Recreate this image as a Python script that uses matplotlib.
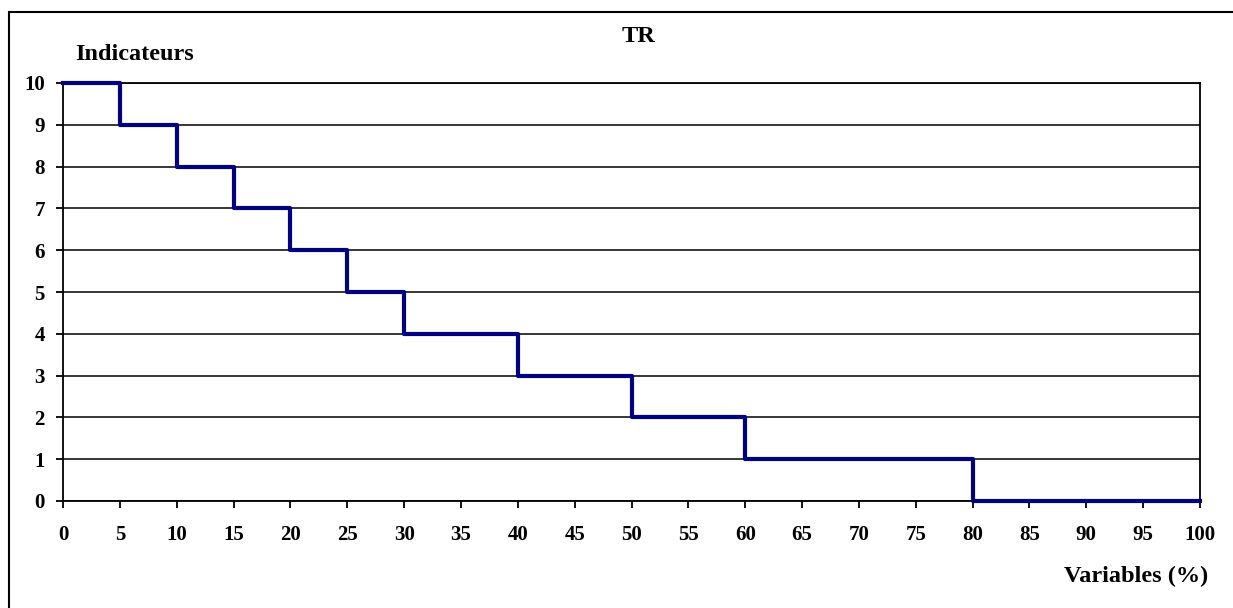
import matplotlib
matplotlib.use("Agg")
import matplotlib.pyplot as plt
from matplotlib.patches import Rectangle

# step breakpoints (Variables %) and indicator level after each breakpoint
variables = [0, 5, 10, 15, 20, 25, 30, 40, 50, 60, 80, 100]
indicateurs = [10, 9, 8, 7, 6, 5, 4, 3, 2, 1, 0, 0]
x_ticks = list(range(0, 101, 5))
y_ticks = list(range(0, 11))

plt.rcParams['font.family'] = ['Liberation Serif', 'DejaVu Serif']
plt.rcParams['font.weight'] = 'bold'

W, H = 1233, 608
fig = plt.figure(figsize=(W / 100, H / 100), dpi=100)
ax = fig.add_axes([63 / W, 1 - 501 / H, (1200 - 63) / W, (501 - 83) / H])

# outer chart frame (only left and top visible in the picture)
fig.patches.append(Rectangle((9 / W, -0.2), 2, 1.2 - 12 / H, transform=fig.transFigure,
                             fill=False, edgecolor='black', linewidth=1.5))

ax.step(variables, indicateurs, where='post', color='#000080', linewidth=3,
        clip_on=False, zorder=4)

ax.set_xlim(0, 100)
ax.set_ylim(0, 10)
ax.set_xticks(x_ticks)
ax.set_yticks(y_ticks)
ax.yaxis.grid(True, color='black', linewidth=1.1)
ax.set_axisbelow(True)
for s in ax.spines.values():
    s.set_linewidth(1.3)
    s.set_color('black')
ax.tick_params(axis='x', length=5, width=1.3, pad=12, labelsize=15)
ax.tick_params(axis='y', length=5, width=1.3, pad=8, labelsize=15)
for lab in ax.get_xticklabels() + ax.get_yticklabels():
    lab.set_fontweight('bold')

fig.text(638 / W, 1 - 36 / H, 'TR', ha='center', va='center', fontsize=17.5, fontweight='bold')
fig.text(75 / W, 1 - 55 / H, 'Indicateurs', ha='left', va='center', fontsize=17.5, fontweight='bold')
fig.text(1208 / W, 1 - 576 / H, 'Variables (%)', ha='right', va='center', fontsize=17.5, fontweight='bold')

fig.savefig('out.png', dpi=100)
